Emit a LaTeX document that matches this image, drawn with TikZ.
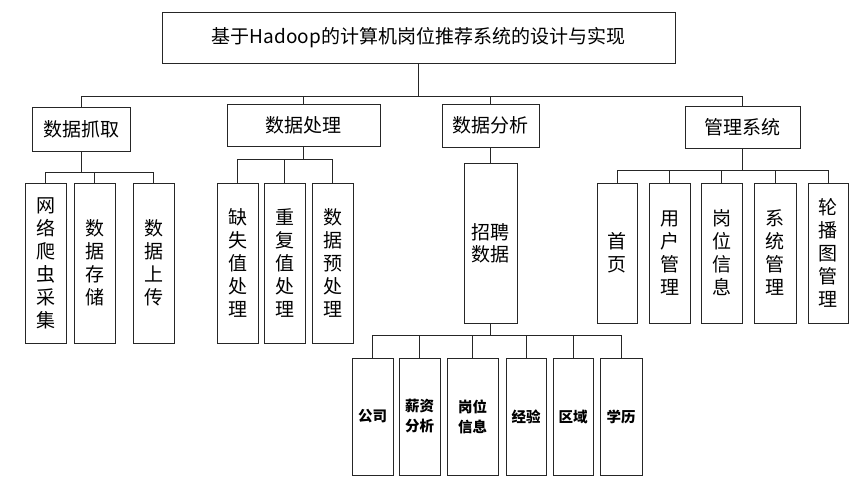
\documentclass[tikz,border=0pt]{standalone}
\usepackage{fontspec}
\setmainfont{Noto Sans CJK SC}
\tikzset{
    box/.style={draw=black!85, line width=1pt, fill=white, inner sep=0pt, align=center,
        font=\fontsize{19}{23}\selectfont},
    vbox/.style={box, minimum width=41pt, minimum height=160pt},
    mbox/.style={box, minimum width=41pt, minimum height=140pt},
    leaf/.style={box, minimum width=41pt, minimum height=117pt,
        font=\fontsize{14.5}{20}\selectfont\bfseries},
    link/.style={draw=black!85, line width=1pt}
}
\begin{document}
\begin{tikzpicture}[x=1pt,y=-1pt]
    \useasboundingbox (0,0) rectangle (861,485);
    % root
    \node [box, minimum width=513pt, minimum height=51pt] (title) at (418.5,37.5) {基于Hadoop的计算机岗位推荐系统的设计与实现};
    % level 1
    \node [box, minimum width=98pt, minimum height=44pt] (grab) at (81,129) {数据抓取};
    \node [box, minimum width=153pt, minimum height=42pt] (proc) at (303.5,125) {数据处理};
    \node [box, minimum width=97pt, minimum height=43pt] (anal) at (490.5,125.5) {数据分析};
    \node [box, minimum width=115pt, minimum height=42pt] (mgmt) at (742.5,127) {管理系统};
    % data grabbing
    \node [vbox] (crawl) at (45.5,263) {网\\络\\爬\\虫\\采\\集};
    \node [vbox] (store) at (94.5,263) {数\\据\\存\\储};
    \node [vbox] (upload) at (153.5,263) {数\\据\\上\\传};
    % data processing
    \node [vbox] (miss) at (237.5,263) {缺\\失\\值\\处\\理};
    \node [vbox] (dup) at (284.5,263) {重\\复\\值\\处\\理};
    \node [vbox] (pre) at (332.5,263) {数\\据\\预\\处\\理};
    % data analysis
    \node [vbox, minimum width=53pt, font=\fontsize{19}{22}\selectfont] (recruit) at (490.5,243) {招聘\\数据};
    \node [leaf] (company) at (372.5,416.5) {公司};
    \node [leaf] (salary) at (419.5,416.5) {薪资\\分析};
    \node [leaf, minimum width=51pt] (postinfo) at (472.5,416.5) {岗位\\信息};
    \node [leaf, minimum width=40pt] (exp) at (526,416.5) {经验};
    \node [leaf, minimum width=40pt] (region) at (573,416.5) {区域};
    \node [leaf, minimum width=42pt] (edu) at (621,416.5) {学历};
    % management
    \node [mbox, minimum width=40pt] (home) at (617,253) {首\\页};
    \node [mbox] (user) at (669.5,253) {用\\户\\管\\理};
    \node [mbox] (post) at (721.5,253) {岗\\位\\信\\息};
    \node [mbox, minimum width=42pt] (sys) at (775,253) {系\\统\\管\\理};
    \node [mbox, minimum width=40pt] (carousel) at (828,253) {轮\\播\\图\\管\\理};
    % connectors
    \coordinate (j0) at (418.5,96);
    \draw [link] (title.south) -- (j0);
    \foreach \n in {grab,proc,anal,mgmt}
        \draw [link] (j0) -| (\n.north);
    \coordinate (j1) at (81,172);
    \draw [link] (grab.south) -- (j1);
    \foreach \n in {crawl,store,upload}
        \draw [link] (j1) -| (\n.north);
    \coordinate (j2) at (303.5,159);
    \draw [link] (proc.south) -- (j2);
    \foreach \n in {miss,dup,pre}
        \draw [link] (j2) -| (\n.north);
    \draw [link] (anal.south) -- (recruit.north);
    \coordinate (j3) at (490.5,335);
    \draw [link] (recruit.south) -- (j3);
    \foreach \n in {company,salary,postinfo,exp,region,edu}
        \draw [link] (j3) -| (\n.north);
    \coordinate (j4) at (742.5,170);
    \draw [link] (mgmt.south) -- (j4);
    \foreach \n in {home,user,post,sys,carousel}
        \draw [link] (j4) -| (\n.north);
\end{tikzpicture}
\end{document}
